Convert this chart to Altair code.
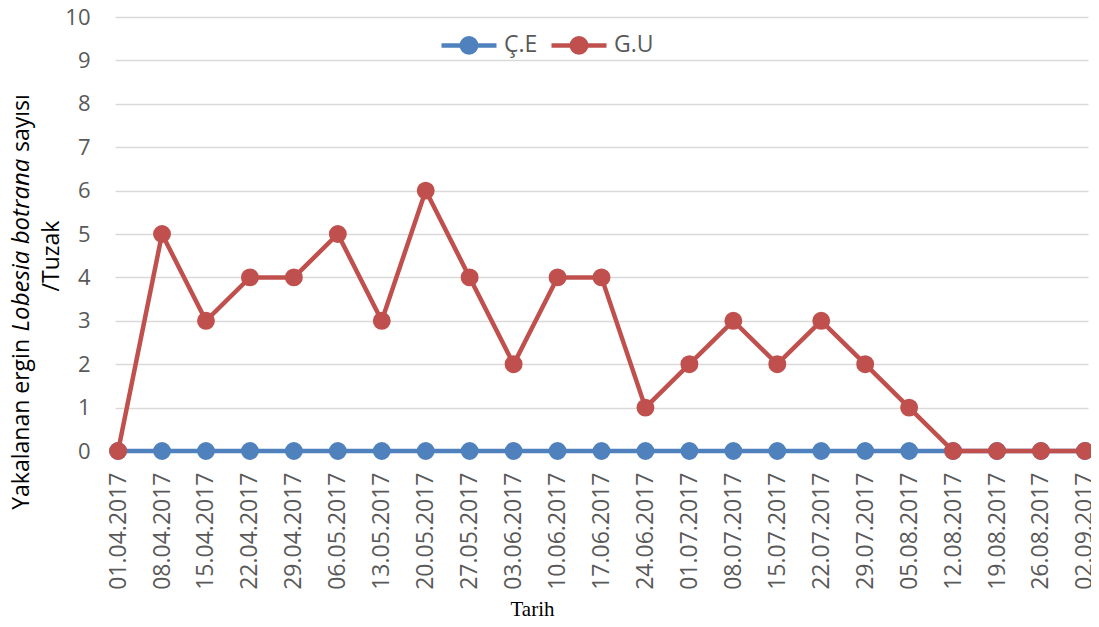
import altair as alt
import pandas as pd

dates = ["01.04.2017", "08.04.2017", "15.04.2017", "22.04.2017", "29.04.2017",
         "06.05.2017", "13.05.2017", "20.05.2017", "27.05.2017", "03.06.2017",
         "10.06.2017", "17.06.2017", "24.06.2017", "01.07.2017", "08.07.2017",
         "15.07.2017", "22.07.2017", "29.07.2017", "05.08.2017", "12.08.2017",
         "19.08.2017", "26.08.2017", "02.09.2017"]
ce_vals = [0, 0, 0, 0, 0, 0, 0, 0, 0, 0, 0, 0, 0, 0, 0, 0, 0, 0, 0, 0, 0, 0, 0]
gu_vals = [0, 5, 3, 4, 4, 5, 3, 6, 4, 2, 4, 4, 1, 2, 3, 2, 3, 2, 1, 0, 0, 0, 0]
series_names = ["Ç.E", "G.U"]
series_colors = ["#4F81BD", "#C0504D"]
y_ticks = [0, 1, 2, 3, 4, 5, 6, 7, 8, 9, 10]

FONT = "Open Sans"
GRAY = "#595959"

df = pd.DataFrame({
    "Tarih": dates + dates,
    "Seri": [series_names[0]] * len(dates) + [series_names[1]] * len(dates),
    "Değer": ce_vals + gu_vals,
})

legend_path = ("M-1,0H1M0.26,0A0.26,0.26 0 1,1 -0.26,0"
               "A0.26,0.26 0 1,1 0.26,0Z")

color = alt.Color(
    "Seri:N",
    scale=alt.Scale(domain=series_names, range=series_colors),
    legend=alt.Legend(
        title=None, orient="none", legendX=324, legendY=-2,
        direction="horizontal", symbolType=legend_path, symbolSize=3025,
        symbolStrokeWidth=4.5, labelFont=FONT, labelFontSize=23,
        labelColor=GRAY, columnPadding=4, labelOffset=5, symbolOpacity=1,
    ),
)

x = alt.X(
    "Tarih:N", sort=dates,
    scale=alt.Scale(type="point", padding=0.07),
    axis=alt.Axis(
        labelAngle=270, labelAlign="right", labelBaseline="middle",
        labelPadding=21, ticks=False, domain=False, grid=False,
        labelFont=FONT, labelFontSize=23, labelColor=GRAY,
        title="Tarih", titleFont="Liberation Serif", titleFontSize=21,
        titleColor="black", titleFontWeight="normal",
        titleX=417, titleY=158, titleBaseline="middle", titleAlign="center",
    ),
)
y = alt.Y(
    "Değer:Q",
    scale=alt.Scale(domain=[0, 10], nice=False),
    axis=alt.Axis(
        values=y_ticks, title=None, domain=False, ticks=False,
        labelPadding=25, labelFont=FONT, labelFontSize=22, labelColor=GRAY,
        gridColor="#D9D9D9", gridWidth=1.3,
    ),
)

layers = []
for name in series_names:
    base = alt.Chart(df).transform_filter(alt.datum.Seri == name)
    layers.append(base.mark_line(strokeWidth=4.5).encode(x=x, y=y, color=color))
    layers.append(base.mark_point(size=180, opacity=1, filled=True, strokeWidth=4.5)
                  .encode(x=x, y=y, color=color, stroke=color))

title_parts = [
    ("Yakalanan ergin", "normal", "right", -93, 322, 23),
    ("Lobesia botrana", "italic", "center", -93, 228, 24),
    ("sayısı", "normal", "left", -93, 135, 23),
    ("/Tuzak", "normal", "center", -63, 239, 23),
]
for txt, style, align, tx, ty, fs in title_parts:
    layers.append(
        alt.Chart(pd.DataFrame({"t": [txt]})).mark_text(
            angle=270, font=FONT, fontSize=fs, fontStyle=style, align=align,
            baseline="middle", color="black",
        ).encode(text="t:N", x=alt.value(tx), y=alt.value(ty))
    )

chart = alt.layer(*layers).properties(
    width=973, height=434,
    autosize=alt.AutoSizeParams(type="none"),
    padding={"left": 107, "top": 9, "right": 3, "bottom": 168},
    background="white",
).configure_view(stroke=None)

chart.save("out.html", embed_options={"renderer": "svg", "actions": False})
